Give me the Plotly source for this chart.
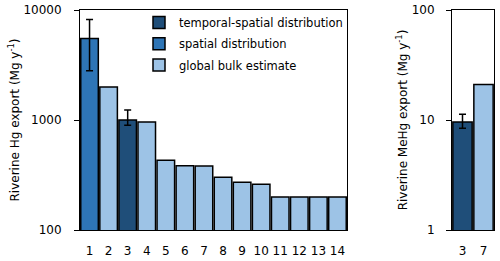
import plotly.graph_objects as go

# Left panel: riverine Hg export (Mg/yr)
hg_labels = ["1", "2", "3", "4", "5", "6", "7", "8", "9", "10", "11", "12", "13", "14"]
hg_values = [5500, 2000, 1000, 960, 430, 384, 382, 301, 271, 260, 200, 200, 200, 200]
hg_types = ["spatial", "bulk", "temporal", "bulk", "bulk", "bulk", "bulk", "bulk", "bulk", "bulk", "bulk", "bulk", "bulk", "bulk"]
hg_err_plus = [2700, 0, 230, 0, 0, 0, 0, 0, 0, 0, 0, 0, 0, 0]
hg_err_minus = [2700, 0, 105, 0, 0, 0, 0, 0, 0, 0, 0, 0, 0, 0]

# Right panel: riverine MeHg export (Mg/yr)
mehg_labels = ["3", "7"]
mehg_values = [9.6, 21]
mehg_types = ["temporal", "bulk"]
mehg_err_plus = [1.7, 0]
mehg_err_minus = [1.2, 0]

type_names = {
    "temporal": "temporal-spatial distribution",
    "spatial": "spatial distribution",
    "bulk": "global bulk estimate",
}
type_colors = {"temporal": "#1F4E79", "spatial": "#2E75B6", "bulk": "#9DC3E6"}
order = ["temporal", "spatial", "bulk"]

FONT = "DejaVu Sans"
W, H = 500, 261
fig = go.Figure()

for t in order:
    idx = [i for i, tt in enumerate(hg_types) if tt == t]
    has_err = any(hg_err_plus[i] > 0 for i in idx)
    fig.add_trace(go.Bar(
        x=[hg_labels[i] for i in idx],
        y=[hg_values[i] for i in idx],
        name=type_names[t], legendgroup=t,
        marker=dict(color=type_colors[t], line=dict(color="black", width=1.5)),
        error_y=dict(type="data", symmetric=False,
                     array=[hg_err_plus[i] for i in idx],
                     arrayminus=[hg_err_minus[i] for i in idx],
                     color="black", thickness=1.5, width=3.5,
                     visible=has_err),
        xaxis="x", yaxis="y", showlegend=True,
    ))

for t in ["temporal", "bulk"]:
    idx = [i for i, tt in enumerate(mehg_types) if tt == t]
    has_err = any(mehg_err_plus[i] > 0 for i in idx)
    fig.add_trace(go.Bar(
        x=[mehg_labels[i] for i in idx],
        y=[mehg_values[i] for i in idx],
        name=type_names[t], legendgroup=t,
        marker=dict(color=type_colors[t], line=dict(color="black", width=1.5)),
        error_y=dict(type="data", symmetric=False,
                     array=[mehg_err_plus[i] for i in idx],
                     arrayminus=[mehg_err_minus[i] for i in idx],
                     color="black", thickness=1.5, width=3.5,
                     visible=has_err),
        xaxis="x2", yaxis="y2", showlegend=False,
    ))

axis_common = dict(showline=True, linecolor="black", linewidth=1, mirror=True,
                   showgrid=False, zeroline=False, automargin=False,
                   ticklabeloverflow="allow")

ydom = [1 - 230 / H, 1 - 10 / H]

fig.update_layout(
    width=W, height=H,
    margin=dict(l=0, r=0, t=0, b=0),
    paper_bgcolor="white", plot_bgcolor="white",
    font=dict(family=FONT, size=12, color="black"),
    barmode="overlay", bargap=0.08,
    xaxis=dict(domain=[80 / W, 347 / W], type="category",
               categoryorder="array", categoryarray=hg_labels,
               ticks="", tickfont=dict(size=12), ticklabelstandoff=10,
               **axis_common, anchor="y"),
    yaxis=dict(domain=ydom, type="log", range=[2, 4],
               tickvals=[100, 1000, 10000], ticktext=["100", "1000", "10000"],
               ticks="outside", ticklen=5, tickcolor="black", ticklabelstandoff=10,
               title=dict(text="Riverine Hg export (Mg y<sup>-1</sup>)", font=dict(size=12), standoff=1),
               **axis_common, anchor="x"),
    xaxis2=dict(domain=[452 / W, 494 / W], type="category",
                categoryorder="array", categoryarray=mehg_labels,
                ticks="", tickfont=dict(size=12), ticklabelstandoff=10,
                **axis_common, anchor="y2"),
    yaxis2=dict(domain=ydom, type="log", range=[0, 2],
                tickvals=[1, 10, 100], ticktext=["1", "10", "100"],
                ticks="outside", ticklen=5, tickcolor="black", ticklabelstandoff=9,
                title=dict(text="Riverine MeHg export (Mg y<sup>-1</sup>)", font=dict(size=12), standoff=1),
                **axis_common, anchor="x2"),
    legend=dict(x=139 / W, y=1 - 8 / H, xanchor="left", yanchor="top",
                font=dict(size=11.5), bgcolor="rgba(0,0,0,0)",
                itemwidth=30, traceorder="grouped", tracegroupgap=2.3),
)

fig.write_html("out.html", config={"displayModeBar": False},
               post_script="document.body.style.margin='0';")
